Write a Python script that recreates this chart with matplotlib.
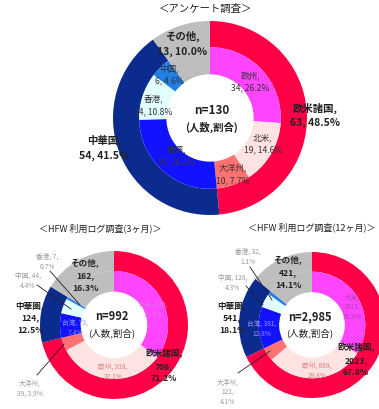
import matplotlib.pyplot as plt

plt.rcParams['font.family'] = ['Noto Sans CJK JP', 'DejaVu Sans']

W, H = 379, 410

# outer ring: 欧米諸国 / 中華圏 / その他
survey_region = [63, 54, 13]
survey_region_pct = [48.5, 41.5, 10.0]
# inner ring
survey_sub_labels = ['欧州', '北米', '大洋州', '台湾', '香港', '中国', 'その他']
survey_sub = [34, 19, 10, 34, 14, 6, 13]
survey_sub_pct = [26.2, 14.6, 7.7, 26.2, 10.8, 4.6, 10.0]

log_sub_labels = ['北米', '欧州', '大洋州', '台湾', '中国', '香港', 'その他']
log3_region = [706, 124, 162]
log3_region_pct = [71.2, 12.5, 16.3]
log3_sub = [349, 318, 39, 73, 44, 7, 162]
log3_sub_pct = [35.2, 32.1, 3.9, 7.4, 4.4, 0.7, 16.3]

log12_region = [2023, 541, 421]
log12_region_pct = [67.8, 18.1, 14.1]
log12_sub = [1013, 889, 121, 381, 128, 32, 421]
log12_sub_pct = [33.9, 29.8, 4.1, 12.8, 4.3, 1.1, 14.1]

RED = '#FF0046'
NAVY = '#0C2B8E'
GRAY = '#BEBEBE'
MAGENTA = '#FF45FF'
PINK = '#FFE2E2'
SALMON = '#FF7272'
BLUE = '#1212FF'
CYAN = '#E2FFFF'
MIDBLUE = '#2080E8'

outer_colors = [RED, NAVY, GRAY]
inner_colors = [MAGENTA, PINK, SALMON, BLUE, CYAN, MIDBLUE, GRAY]

fig = plt.figure(figsize=(W / 100, H / 100), dpi=100)
ax = fig.add_axes([0, 0, 1, 1])


def donut(cx, cy, r, outer, inner):
    c = (cx, H - cy)
    ax.pie(outer, radius=r, center=c, colors=outer_colors, startangle=90,
           counterclock=False, wedgeprops=dict(width=r * 0.27, edgecolor='none'))
    ax.pie(inner, radius=r * 0.73, center=c, colors=inner_colors, startangle=90,
           counterclock=False, wedgeprops=dict(width=r * 0.28, edgecolor='none'))


def txt(x, y, s, size=6, color='#222222', bold=False, ls=1.3):
    ax.text(x, H - y, s, ha='center', va='center', fontsize=size, color=color,
            fontweight='bold' if bold else 'normal', linespacing=ls)


def leader(x0, y0, x1, y1):
    ax.plot([x0, x1], [H - y0, H - y1], color='#222222', lw=0.6)


# ---- アンケート調査 ----
donut(210, 119, 97, survey_region, survey_sub)
txt(206, 9, '＜アンケート調査＞', 7.5)
txt(212, 110, 'n=130', 8.5, bold=True)
txt(212, 127, '(人数,割合)', 7.5, bold=True)
txt(182, 44, f'その他,\n{survey_region[2]}, {survey_region_pct[2]:.1f}%', 7.5, bold=True, ls=1.5)
txt(315, 115, f'欧米諸国,\n{survey_region[0]}, {survey_region_pct[0]:.1f}%', 7.5, bold=True, ls=1.5)
txt(104, 148, f'中華国,\n{survey_region[1]}, {survey_region_pct[1]:.1f}%', 7.5, bold=True, ls=1.5)
pos1 = [(250, 82), (263, 144), (233, 175), (176, 156), (153, 106), (169, 75)]
for (x, y), lab, v, p in zip(pos1, survey_sub_labels, survey_sub, survey_sub_pct):
    txt(x, y, f'{lab},\n{v}, {p:.1f}%', 6.2, color='#333333', ls=1.35)

# ---- HFW 利用ログ調査(3ヶ月) ----
donut(114, 326, 74, log3_region, log3_sub)
txt(100, 228, '＜HFW 利用ログ調査(3ヶ月)＞', 6.5)
txt(112, 317, 'n=992', 8, bold=True)
txt(112, 333, '(人数,割合)', 6.8)
txt(85, 276, f'その他,\n{log3_region[2]},\n{log3_region_pct[2]:.1f}%', 6.2, bold=True, ls=1.45)
txt(30, 318, f'中華圏,\n{log3_region[1]},\n{log3_region_pct[1]:.1f}%', 6.2, bold=True, ls=1.45)
txt(164, 366, f'欧米諸国,\n{log3_region[0]},\n{log3_region_pct[0]:.1f}%', 6.2, bold=True, ls=1.45)
txt(153, 310, f'{log_sub_labels[0]}, {log3_sub[0]},\n{log3_sub_pct[0]:.1f}%', 4.8, color='#E070E0')
txt(113, 372, f'{log_sub_labels[1]}, {log3_sub[1]},\n{log3_sub_pct[1]:.1f}%', 4.8, color='#E07878')
txt(75, 328, f'{log_sub_labels[3]}, {log3_sub[3]},\n{log3_sub_pct[3]:.1f}%', 4.8, color='#9090FF')
txt(28, 281, f'{log_sub_labels[4]}, {log3_sub[4]},\n{log3_sub_pct[4]:.1f}%', 4.8, color='#999999')
txt(47, 262, f'{log_sub_labels[5]}, {log3_sub[5]},\n{log3_sub_pct[5]:.1f}%', 4.8, color='#999999')
txt(30, 389, f'{log_sub_labels[2]},\n{log3_sub[2]}, {log3_sub_pct[2]:.1f}%', 4.8, color='#999999')
leader(50, 272, 80, 306)
leader(37, 286, 71, 310)
leader(37, 376, 64, 345)

# ---- HFW 利用ログ調査(12ヶ月) ----
donut(312, 326, 73, log12_region, log12_sub)
txt(312, 227, '＜HFW 利用ログ調査(12ヶ月)＞', 6.5)
txt(310, 317, 'n=2,985', 8, bold=True)
txt(310, 333, '(人数,割合)', 6.8)
txt(288, 273, f'その他,\n{log12_region[2]},\n{log12_region_pct[2]:.1f}%', 6.2, bold=True, ls=1.45)
txt(232, 318, f'中華圏,\n{log12_region[1]},\n{log12_region_pct[1]:.1f}%', 6.2, bold=True, ls=1.45)
txt(356, 360, f'欧米諸国,\n{log12_region[0]},\n{log12_region_pct[0]:.1f}%', 6.2, bold=True, ls=1.45)
txt(352, 307, f'{log_sub_labels[0]},\n{log12_sub[0]},\n{log12_sub_pct[0]:.1f}%', 4.8, color='#B040B0')
txt(317, 371, f'{log_sub_labels[1]}, {log12_sub[1]},\n{log12_sub_pct[1]:.1f}%', 4.8, color='#E07878')
txt(262, 329, f'{log_sub_labels[3]}, {log12_sub[3]},\n{log12_sub_pct[3]:.1f}%', 4.8, color='#9090FF')
txt(233, 283, f'{log_sub_labels[4]}, {log12_sub[4]},\n{log12_sub_pct[4]:.1f}%', 4.8, color='#999999')
txt(248, 257, f'{log_sub_labels[5]}, {log12_sub[5]},\n{log12_sub_pct[5]:.1f}%', 4.8, color='#999999')
txt(228, 392, f'{log_sub_labels[2]},\n{log12_sub[2]},\n{log12_sub_pct[2]:.1f}%', 4.8, color='#999999')
leader(250, 268, 272, 301)
leader(246, 287, 263, 306)
leader(238, 374, 270, 352)

ax.set_xlim(0, W)
ax.set_ylim(0, H)
ax.set_aspect('auto')
ax.axis('off')

fig.savefig('out.png', dpi=100)
